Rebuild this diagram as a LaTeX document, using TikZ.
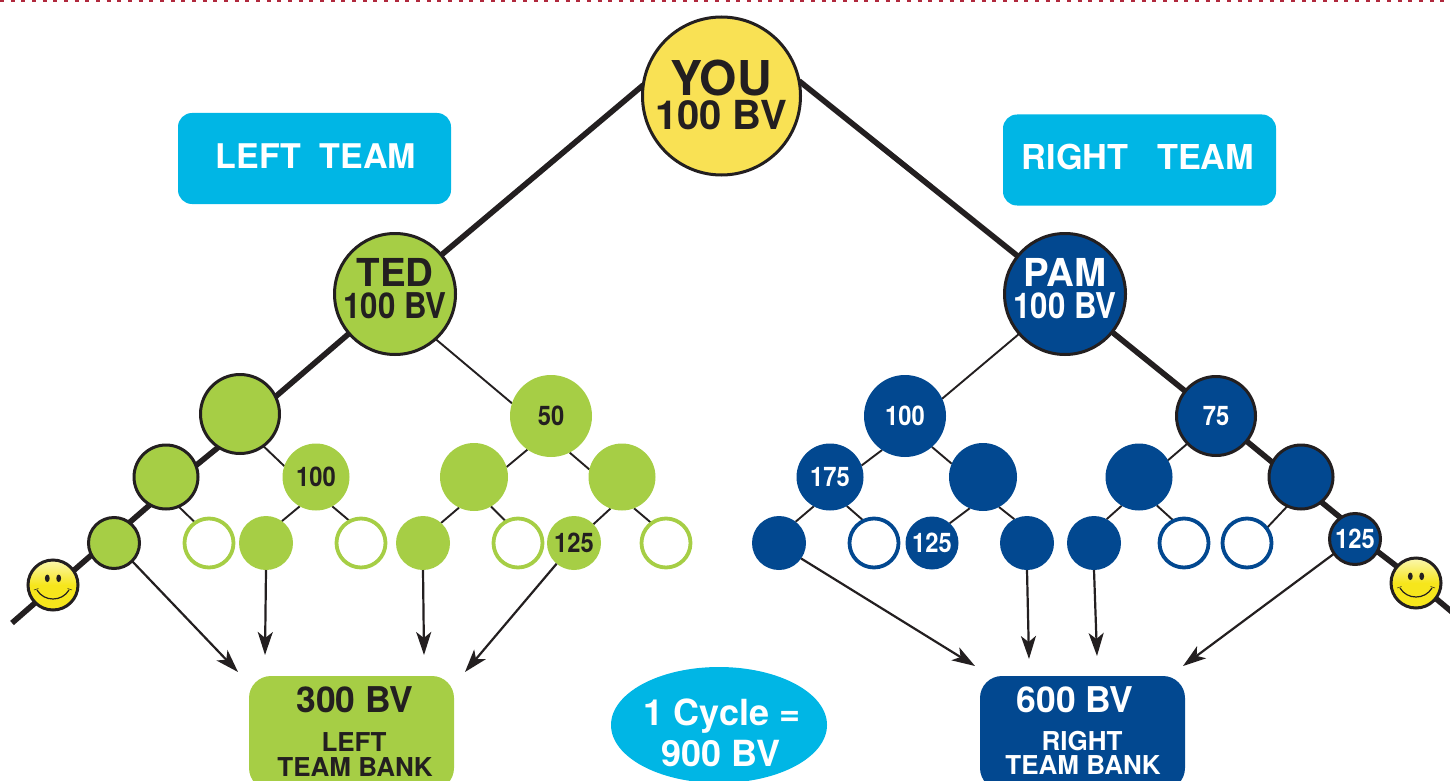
\documentclass[tikz,border=0pt]{standalone}
\usepackage{fontspec}
\usepackage{graphicx}
\setmainfont{TeX Gyre Heros}[BoldFont=* Bold]
\usetikzlibrary{backgrounds,arrows.meta,shapes.geometric}
\definecolor{gr}{HTML}{A6CE45}
\definecolor{bl}{HTML}{024890}
\definecolor{cy}{HTML}{00B6E5}
\definecolor{yl}{HTML}{F9E154}
\definecolor{ink}{HTML}{231F20}
\definecolor{dot}{HTML}{B0283C}
\definecolor{F7lite}{HTML}{FBF7B0}
\definecolor{F7deep}{HTML}{F6E61C}
\newcommand{\fs}[1]{\fontsize{#1}{#1}\selectfont\bfseries}
\newcommand{\nar}[1]{\scalebox{.88}[1]{#1}}
\tikzset{
 x=1pt,y=-1pt,
 disc/.style={circle,inner sep=0pt,outer sep=0pt,minimum size=#1},
 gdisc/.style={disc=#1,fill=gr},
 bdisc/.style={disc=#1,fill=bl},
 gout/.style={disc=#1,fill=gr,draw=ink,line width=3pt},
 bout/.style={disc=#1,fill=bl,draw=ink,line width=3pt},
 gring/.style={disc=49pt,fill=white,draw=gr,line width=3.8pt},
 bring/.style={disc=49pt,fill=white,draw=bl,line width=3.8pt},
 lab/.style={inner sep=0pt,font=\fs{#1},text=white},
 dlab/.style={inner sep=0pt,font=\fs{#1},text=ink},
 teambox/.style={fill=cy,rounded corners=14pt,inner sep=0pt,minimum width=273pt,minimum height=91pt},
 bankbox/.style={rounded corners=22pt,inner sep=0pt,minimum width=205pt,minimum height=114pt},
 trunk/.style={draw=ink,line width=5.6pt},
 twig/.style={draw=ink,line width=1.9pt},
 shoot/.style={draw=ink,line width=2.2pt,-{Stealth[length=23pt,width=15pt,inset=6pt]}},
 smile/.style={disc=50pt,draw=ink,line width=3pt,top color=F7lite,bottom color=F7deep,middle color=F7deep},
}
\newcommand{\face}[1]{%
 \begin{scope}[shift={(#1)}]
  \fill[ink] (-5.7,-6.7) ellipse [x radius=2.4,y radius=3.8];
  \fill[ink] (5.7,-6.7) ellipse [x radius=2.4,y radius=3.8];
  \draw[ink,line width=1.2pt] (-16,5) .. controls (-9,17) and (9,17) .. (16,5);
  \draw[ink,line width=.5pt] (-19,5) -- (-14.5,3.5) (19,5) -- (14.5,3.5);
 \end{scope}}
\begin{document}
\begin{tikzpicture}
\useasboundingbox (0,0) rectangle (1450,781);
\clip (0,0) rectangle (1450,781);
\draw[dot,line width=2pt,dash pattern=on 4pt off 6.67pt] (0,1) -- (1450,1);

\node[circle,inner sep=0pt,outer sep=0pt,minimum size=158pt,fill=yl,draw=ink,line width=3pt] (you) at (721.5,96) {};
\node[inner sep=0pt,align=center,text=ink] (youl) at (721,95) {\fs{48}YOU\\[4pt]\fs{40}100 BV};

\node[teambox] (lt) at (314.5,158.5) {};
\node[lab=34] (ltx) at (316,156) {LEFT\ \ TEAM};
\node[teambox] (rt) at (1139.5,160) {};
\node[lab=34.3] (rtx) at (1138,157) {RIGHT\ \ \ TEAM};

% left team
\node[gout=121pt] (ted) at (395,294) {};
\node[dlab=38.5] (teda) at (395,272) {TED};
\node[dlab=35.5] (tedb) at (395,306) {\nar{100 BV}};
\node[gout=79pt] (la) at (240,414) {};
\node[gdisc=82pt] (lb) at (551,416) {};
\node[dlab=27] at (lb) {\nar{50}};
\node[gout=64pt] (lc) at (166,477) {};
\node[gdisc=67pt] (ld) at (316,477) {};
\node[dlab=27] at (ld) {\nar{100}};
\node[gdisc=68pt] (le) at (474,477) {};
\node[gdisc=67pt] (lf) at (622,477) {};
\node[gout=51pt] (l1) at (114,543) {};
\node[gring] (l2) at (209,543) {};
\node[gdisc=54pt] (l3) at (266,543) {};
\node[gring] (l4) at (361,543) {};
\node[gdisc=54pt] (l5) at (423,543) {};
\node[gring] (l6) at (518,543) {};
\node[gdisc=54pt] (l7) at (574,543) {};
\node[dlab=27] at (l7) {\nar{125}};
\node[gring] (l8) at (666,543) {};
\node[smile] (ls) at (53,585) {};
\face{ls}
\coordinate (lend) at (12,623);

% right team
\node[bout=121pt] (pam) at (1065,294) {};
\node[lab=38.5] (pama) at (1065,272) {PAM};
\node[lab=35.5] (pamb) at (1065,306) {\nar{100 BV}};
\node[bdisc=82pt] (ra) at (905,416) {};
\node[lab=27] at (ra) {\nar{100}};
\node[bout=79pt] (rb) at (1216,416) {};
\node[lab=27] at (rb) {\nar{75}};
\node[bdisc=67pt] (rc) at (830,477) {};
\node[lab=27] at (rc) {\nar{175}};
\node[bdisc=68pt] (rd) at (983,477) {};
\node[bdisc=67pt] (re) at (1139,477) {};
\node[bout=64pt] (rf) at (1301,477) {};
\node[bdisc=54pt] (r1) at (779,543) {};
\node[bring] (r2) at (874,543) {};
\node[bdisc=53pt] (r3) at (932,543) {};
\node[lab=27] at (r3) {\nar{125}};
\node[bdisc=54pt] (r4) at (1027,543) {};
\node[bdisc=54pt] (r5) at (1094,543) {};
\node[bring] (r6) at (1184,543) {};
\node[bring] (r7) at (1247,543) {};
\node[bout=51pt] (r8) at (1355,539) {};
\node[lab=27] at (r8) {\nar{125}};
\node[smile] (rs) at (1416,583) {};
\face{rs}
\coordinate (rend) at (1452,612);

% banks and cycle
\node[bankbox,fill=gr] (lbank) at (351.5,733) {};
\node[dlab=35.5] (lb1) at (355,700) {300 BV};
\node[dlab=26] (lb2) at (354,742) {LEFT};
\node[dlab=26] (lb3) at (355,767) {TEAM BANK};
\node[bankbox,fill=bl] (rbank) at (1082.5,733) {};
\node[lab=35.5] (rb1) at (1075,700) {600 BV};
\node[lab=26] (rb2) at (1082,741) {RIGHT};
\node[lab=26] (rb3) at (1083,765) {TEAM BANK};
\node[ellipse,fill=cy,inner sep=0pt,minimum width=216pt,minimum height=116pt] (cyc) at (719,725) {};
\node[lab=36] (cy1) at (722,716) {1 Cycle =};
\node[lab=36] (cy2) at (721,754) {900 BV};

\coordinate (t1) at (238,672);
\coordinate (t2) at (265,655);
\coordinate (t3) at (424,655);
\coordinate (t4) at (465,672);
\coordinate (t5) at (975,666);
\coordinate (t6) at (1029,659);
\coordinate (t7) at (1097,656);
\coordinate (t8) at (1183,666);

\begin{scope}[on background layer]
 % trunks
 \path[trunk] (you.172) -- (ted);
 \path[trunk] (ted) -- (la.26);
 \path[trunk] (la.-123) -- (lc.21);
 \path[trunk] (lc.-120) -- (l1.53);
 \path[trunk] (l1.-152) -- (ls.35);
 \path[trunk] (ls.-135) -- (lend);
 \path[trunk] (you.11) -- (pam);
 \path[trunk] (pam) -- (rb);
 \path[trunk] (rb) -- (rf.153);
 \path[trunk] (rf.-51) -- (r8.124);
 \path[trunk] (r8.-29) -- (rs.139);
 \path[trunk] (rs.-38) -- (rend);
 % thin branches
 \path[twig] (ted.-48) -- (lb.162);
 \path[twig] (la.-54) -- (ld.161);
 \path[twig] (lc.-67) -- (l2.124);
 \path[twig] (ld.-119) -- (l3.54);
 \path[twig] (ld.-61) -- (l4.117);
 \path[twig] (lb.-125) -- (le.17);
 \path[twig] (lb.-63) -- (lf.167);
 \path[twig] (le.-116) -- (l5.48);
 \path[twig] (le.-60) -- (l6.119);
 \path[twig] (lf.-110) -- (l7.44);
 \path[twig] (lf.-69) -- (l8.126);
 \path[twig] (pam.-139) -- (ra.25);
 \path[twig] (ra.-124) -- (rc.20);
 \path[twig] (ra.-49) -- (rd.157);
 \path[twig] (rc.-119) -- (r1.52);
 \path[twig] (rc.-60) -- (r2.115);
 \path[twig] (rd.-113) -- (r3.48);
 \path[twig] (rd.-62) -- (r4.118);
 \path[twig] (rb.-136) -- (re.30);
 \path[twig] (re.-121) -- (r5.62);
 \path[twig] (re.-58) -- (r6.115);
 \path[twig] (rf.-115) -- (r7.37);
\end{scope}
% arrows to banks
\path[shoot] (l1.-45) -- (t1);
\path[shoot] (l3.south) -- (t2);
\path[shoot] (l5.south) -- (t3);
\path[shoot] (l7.-130) -- (t4);
\path[shoot] (r1.-35) -- (t5);
\path[shoot] (r4.south) -- (t6);
\path[shoot] (r5.south) -- (t7);
\path[shoot] (r8.-145) -- (t8);
\end{tikzpicture}
\end{document}
